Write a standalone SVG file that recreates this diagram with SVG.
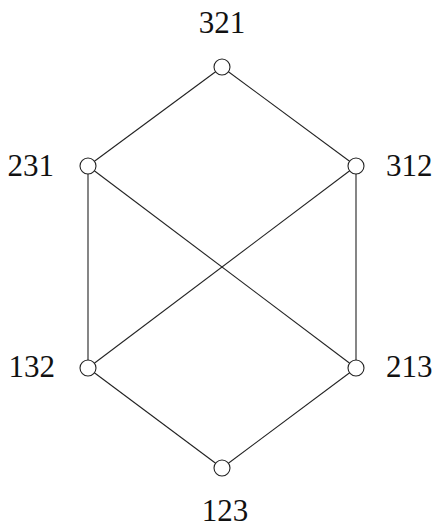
<svg xmlns="http://www.w3.org/2000/svg" width="439" height="528" viewBox="0 0 439 528">
<style>
.e{stroke:#222;stroke-width:1.1;fill:none}
.n{fill:#fff;stroke:#222;stroke-width:1.1}
.t{font-family:"Liberation Serif","DejaVu Serif",serif;font-size:31px;fill:#111}
</style>
<rect width="439" height="528" fill="#fff"/>
<g id="connectors">
<line class="e" x1="222" y1="67" x2="88" y2="166"/>
<line class="e" x1="222" y1="67" x2="356" y2="166"/>
<line class="e" x1="88" y1="166" x2="88" y2="368"/>
<line class="e" x1="88" y1="166" x2="356" y2="368"/>
<line class="e" x1="356" y1="166" x2="88" y2="368"/>
<line class="e" x1="356" y1="166" x2="356" y2="368"/>
<line class="e" x1="88" y1="368" x2="222" y2="468"/>
<line class="e" x1="356" y1="368" x2="222" y2="468"/>
</g>
<g id="n321"><circle class="n" cx="222" cy="67" r="8"/><text class="t" x="222" y="33" text-anchor="middle">321</text></g>
<g id="n231"><circle class="n" cx="88" cy="166" r="8"/><text class="t" x="54" y="176" text-anchor="end">231</text></g>
<g id="n312"><circle class="n" cx="356" cy="166" r="8"/><text class="t" x="386" y="176">312</text></g>
<g id="n132"><circle class="n" cx="88" cy="368" r="8"/><text class="t" x="55" y="377" text-anchor="end">132</text></g>
<g id="n213"><circle class="n" cx="356" cy="368" r="8"/><text class="t" x="386" y="377">213</text></g>
<g id="n123"><circle class="n" cx="222" cy="468" r="8"/><text class="t" x="225" y="521" text-anchor="middle">123</text></g>
</svg>
